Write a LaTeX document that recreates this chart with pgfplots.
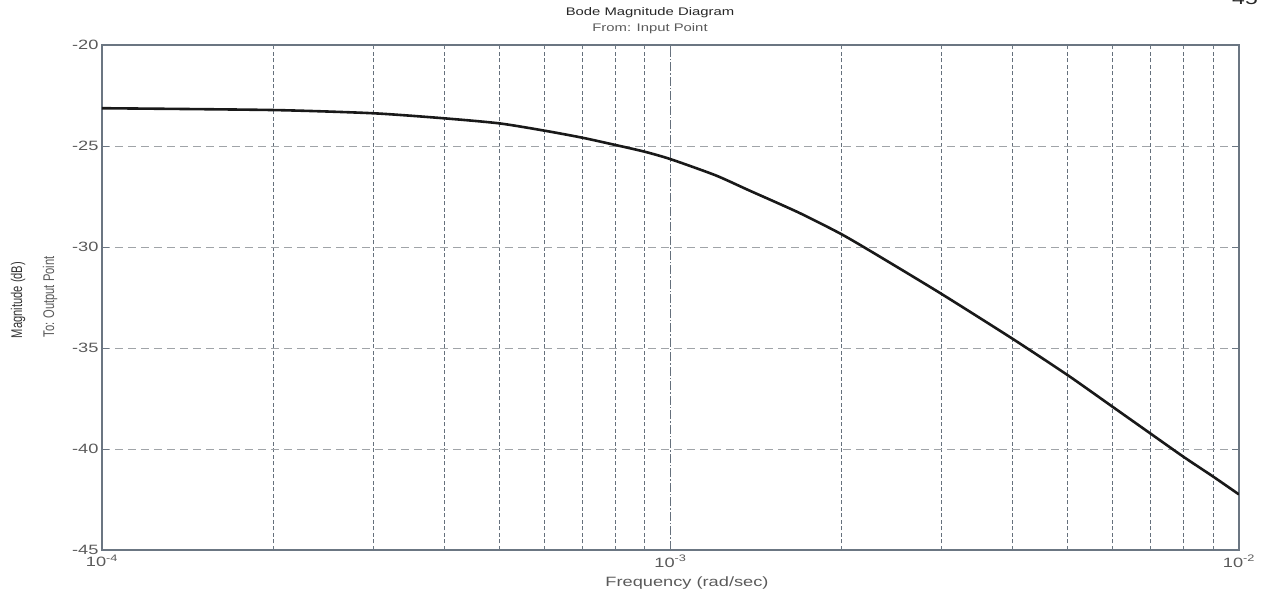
\documentclass[border=0pt]{standalone}
\usepackage{fontspec}
\setmainfont{Liberation Sans}[FakeStretch=1.35]
\newfontfamily\condfont{Liberation Sans}[FakeStretch=0.72]
\usepackage{pgfplots}
\pgfplotsset{compat=1.18}
\definecolor{axgray}{HTML}{6B7682}
\definecolor{vgrid}{HTML}{65707C}
\definecolor{hgrid}{HTML}{A0A4A8}
\definecolor{txtgray}{HTML}{5A5A5A}
\pgfplotstableread{
f m
1e-4 -23.13
2e-4 -23.22
3e-4 -23.38
4e-4 -23.63
5e-4 -23.88
6e-4 -24.24
7e-4 -24.59
8e-4 -24.95
9e-4 -25.28
1e-3 -25.65
1.2e-3 -26.45
1.373e-3 -27.19
1.682e-3 -28.30
2e-3 -29.37
2.326e-3 -30.45
3e-3 -32.33
4e-3 -34.55
5e-3 -36.35
6e-3 -37.92
7e-3 -39.25
8e-3 -40.40
9e-3 -41.36
1e-2 -42.25
}\bode
\begin{document}
\begin{tikzpicture}
\useasboundingbox (-102pt,-43pt) rectangle (1168pt,550pt);
\begin{axis}[
  scale only axis, width=1137pt, height=505pt,
  xmode=log, log basis x=10,
  xmin=1e-4, xmax=1e-2, ymin=-45, ymax=-20,
  xtick={1e-4,1e-3,1e-2},
  minor xtick={2e-4,3e-4,4e-4,5e-4,6e-4,7e-4,8e-4,9e-4,2e-3,3e-3,4e-3,5e-3,6e-3,7e-3,8e-3,9e-3},
  xticklabels={10\textsuperscript{-4},10\textsuperscript{-3},10\textsuperscript{-2}},
  ytick={-45,-40,-35,-30,-25,-20},
  yticklabels={-45,-40,-35,-30,-25,-20},
  grid=both,
  major x grid style={vgrid, line width=0.9pt, dash pattern=on 9pt off 2pt on 1.5pt off 2pt},
  minor x grid style={vgrid, line width=0.9pt, dash pattern=on 4pt off 2.5pt},
  major y grid style={hgrid, line width=0.9pt, dash pattern=on 8pt off 5pt},
  axis line style={axgray, line width=1.1pt},
  tick style={axgray, line width=0.9pt},
  major tick length=7pt, minor tick length=4pt,
  tick align=inside,
  ticklabel style={font=\fontsize{13.5}{15}\selectfont, text=txtgray},
  xticklabel style={yshift=-4pt, inner sep=1pt},
]
\addplot[line width=2.6pt, color=black!90, smooth, tension=0.4] table[x=f,y=m] {\bode};
\end{axis}
\node[font=\fontsize{11}{13}\selectfont, text=black!85] at (548pt,537pt) {Bode Magnitude Diagram};
\node[font=\fontsize{11}{13}\selectfont, text=txtgray] at (548pt,521pt) {From: Input Point};
\node[font=\fontsize{13.5}{16}\selectfont, text=txtgray] at (585pt,-33pt) {Frequency (rad/sec)};
\node[rotate=90, font=\condfont\fontsize{15.5}{17}\selectfont, text=black!80] at (-84pt,250pt) {Magnitude (dB)};
\node[rotate=90, font=\condfont\fontsize{15.5}{17}\selectfont, text=txtgray] at (-52pt,253pt) {To: Output Point};
\node[anchor=base, font=\fontsize{17}{19}\selectfont, text=black!85] at (1143pt,545pt) {45};
\end{tikzpicture}
\end{document}
